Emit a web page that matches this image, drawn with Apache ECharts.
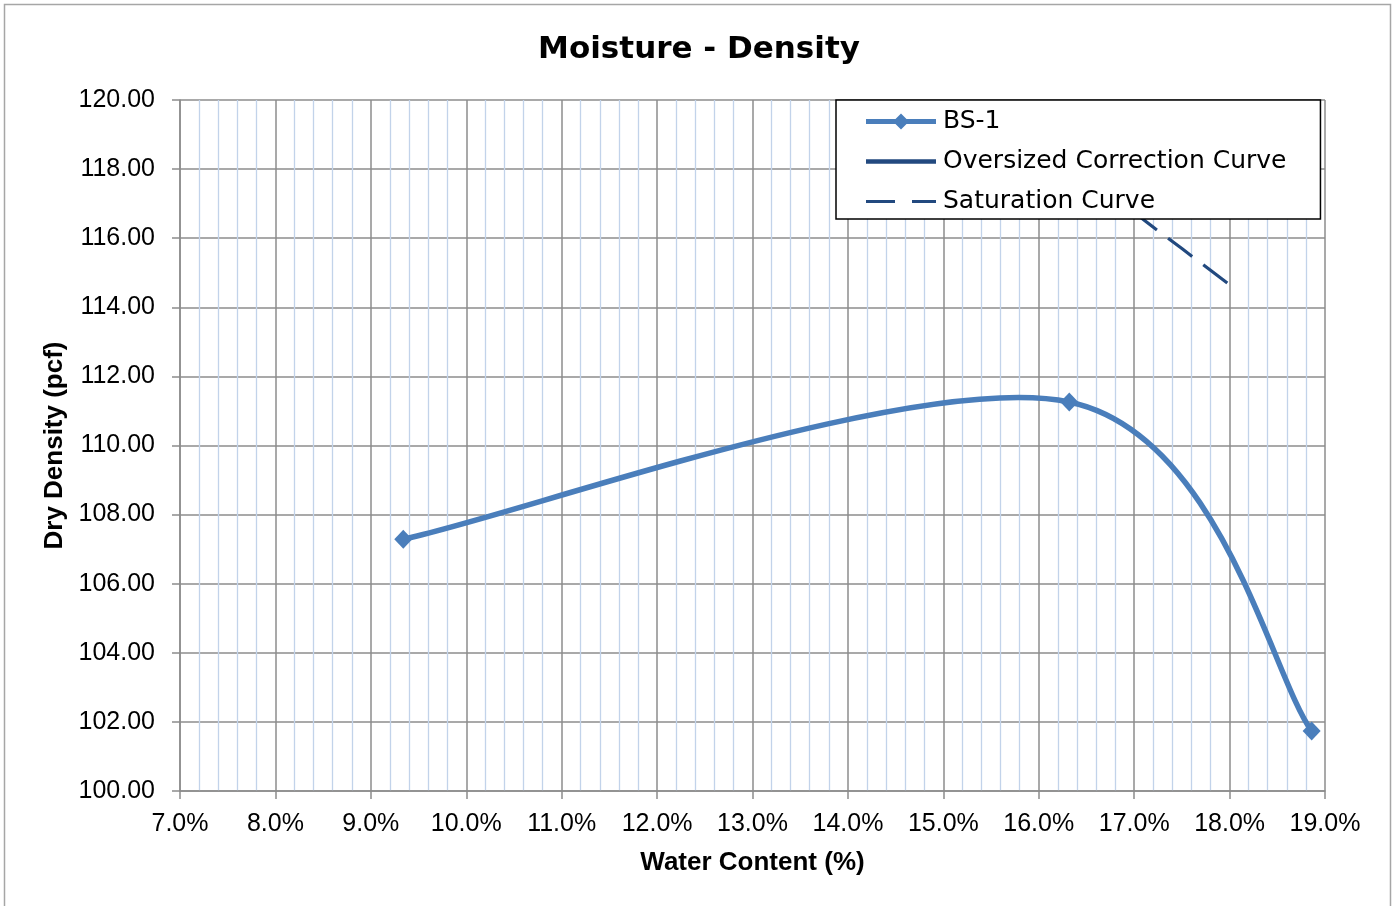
<!DOCTYPE html>
<html>
<head>
<meta charset="utf-8">
<title>Moisture - Density</title>
<script src="https://cdn.jsdelivr.net/npm/echarts@6/dist/echarts.min.js"></script>
<style>
    html, body { margin: 0; padding: 0; background: #fff; }
    #main { width: 1398px; height: 906px; }
</style>
</head>
<body>
<div id="main"></div>
<script>
// 试样 BS-1 的含水率(%)和干密度(pcf)
const bsWater = [9.34, 16.32, 18.86];
const bsDensity = [107.29, 111.26, 101.74];

// 饱和曲线（大部分被图例挡住）
const satWater = [16.0, 16.5, 17.0, 17.5, 18.0];
const satDensity = [119.1, 117.9, 116.75, 115.7, 114.65];

// 超粒径修正曲线，本图没有数据
const oversizedWater = [];
const oversizedDensity = [];

// 坐标轴刻度
const xTicks = { min: 7, max: 19, step: 1 };
const yTicks = { min: 100, max: 120, step: 2 };

const blue = '#4a7ebb';
const navy = '#22497f';
const gridGray = '#8c8c8c';

function pairs(xs, ys) {
    return xs.map((x, i) => [x, ys[i]]);
}

// 模仿 Excel 的平滑线：每个点画出它到下一个点的贝塞尔曲线和菱形标记
function renderBs(params, api) {
    const pts = bsWater.map((w, i) => api.coord([w, bsDensity[i]]));
    const i = params.dataIndex;
    const n = pts.length;
    const children = [];
    if (i < n - 1) {
        const p0 = pts[Math.max(i - 1, 0)];
        const p1 = pts[i];
        const p2 = pts[i + 1];
        const p3 = pts[Math.min(i + 2, n - 1)];
        children.push({
            type: 'bezierCurve',
            shape: {
                x1: p1[0], y1: p1[1],
                cpx1: p1[0] + (p2[0] - p0[0]) / 6, cpy1: p1[1] + (p2[1] - p0[1]) / 6,
                cpx2: p2[0] - (p3[0] - p1[0]) / 6, cpy2: p2[1] - (p3[1] - p1[1]) / 6,
                x2: p2[0], y2: p2[1]
            },
            style: { stroke: blue, lineWidth: 5.5, fill: null, lineCap: 'round' }
        });
    }
    const c = pts[i];
    children.push({
        type: 'polygon',
        shape: { points: [[c[0], c[1] - 9.5], [c[0] + 9, c[1]], [c[0], c[1] + 9.5], [c[0] - 9, c[1]]] },
        style: { fill: blue }
    });
    return { type: 'group', children: children };
}

const myChart = echarts.init(document.getElementById('main'));

const option = {
    backgroundColor: '#fff',
    animation: false,
    graphic: [{
        type: 'rect',
        shape: { x: 4.5, y: 4.5, width: 1386, height: 940 },
        style: { fill: null, stroke: '#a6a6a6', lineWidth: 1.5 },
        z: -1
    }],
    title: {
        text: 'Moisture - Density',
        left: 'center',
        top: 29,
        textStyle: { fontFamily: 'DejaVu Sans', fontWeight: 'bold', fontSize: 31, color: '#000' }
    },
    legend: {
        orient: 'vertical',
        left: 836,
        top: 100,
        padding: [9, 34, 5, 30],
        itemGap: 15,
        itemWidth: 70,
        itemHeight: 16,
        selectedMode: false,
        backgroundColor: '#fff',
        borderColor: '#000',
        borderWidth: 1.5,
        z: 10,
        textStyle: { fontFamily: 'DejaVu Sans', fontSize: 25, color: '#000', padding: [0, 0, 0, 2] },
        data: [
            { name: 'BS-1', icon: 'path://M0,5.5H29.5L35,0L40.5,5.5H70V10.5H40.5L35,16L29.5,10.5H0Z' },
            { name: 'Oversized Correction Curve', icon: 'path://M0,0H70V4.5H0Z' },
            { name: 'Saturation Curve', icon: 'path://M0,0H29V3H0Z M46,0H70V3H46Z' }
        ]
    },
    grid: { left: 180, right: 73, top: 100, bottom: 115 },
    xAxis: {
        type: 'value',
        min: xTicks.min,
        max: xTicks.max,
        interval: xTicks.step,
        name: 'Water Content (%)',
        nameLocation: 'middle',
        nameGap: 59,
        nameTextStyle: { fontFamily: 'Liberation Sans', fontWeight: 'bold', fontSize: 26, color: '#000' },
        axisLine: { lineStyle: { color: gridGray, width: 1.5 } },
        axisTick: { length: 8, lineStyle: { color: gridGray, width: 1.5 } },
        axisLabel: {
            margin: 21,
            fontFamily: 'Liberation Sans',
            fontSize: 25,
            color: '#000',
            formatter: v => v.toFixed(1) + '%'
        },
        splitLine: { lineStyle: { color: gridGray, width: 1.5 } },
        minorTick: { show: false, splitNumber: 5 },
        minorSplitLine: { show: true, lineStyle: { color: '#c2d3ea', width: 1.3 } }
    },
    yAxis: {
        type: 'value',
        min: yTicks.min,
        max: yTicks.max,
        interval: yTicks.step,
        name: 'Dry Density (pcf)',
        nameLocation: 'middle',
        nameGap: 112,
        nameTextStyle: { fontFamily: 'Liberation Sans', fontWeight: 'bold', fontSize: 26, color: '#000' },
        axisLine: { show: true, lineStyle: { color: gridGray, width: 1.5 } },
        axisTick: { show: true, length: 8, lineStyle: { color: gridGray, width: 1.5 } },
        axisLabel: {
            margin: 25,
            fontFamily: 'Liberation Sans',
            fontSize: 25,
            color: '#000',
            formatter: v => v.toFixed(2)
        },
        splitLine: { lineStyle: { color: gridGray, width: 1.5 } }
    },
    series: [
        {
            name: 'BS-1',
            type: 'custom',
            renderItem: renderBs,
            itemStyle: { color: blue },
            encode: { x: 0, y: 1 },
            data: pairs(bsWater, bsDensity),
            z: 5
        },
        {
            name: 'Oversized Correction Curve',
            type: 'line',
            symbol: 'none',
            color: navy,
            lineStyle: { color: navy, width: 4.5 },
            data: pairs(oversizedWater, oversizedDensity)
        },
        {
            name: 'Saturation Curve',
            type: 'line',
            symbol: 'none',
            smooth: true,
            color: navy,
            lineStyle: { color: navy, width: 3.2, type: [30, 14], dashOffset: 8 },
            data: pairs(satWater, satDensity),
            z: 4
        }
    ]
};

myChart.setOption(option);
</script>
</body>
</html>
